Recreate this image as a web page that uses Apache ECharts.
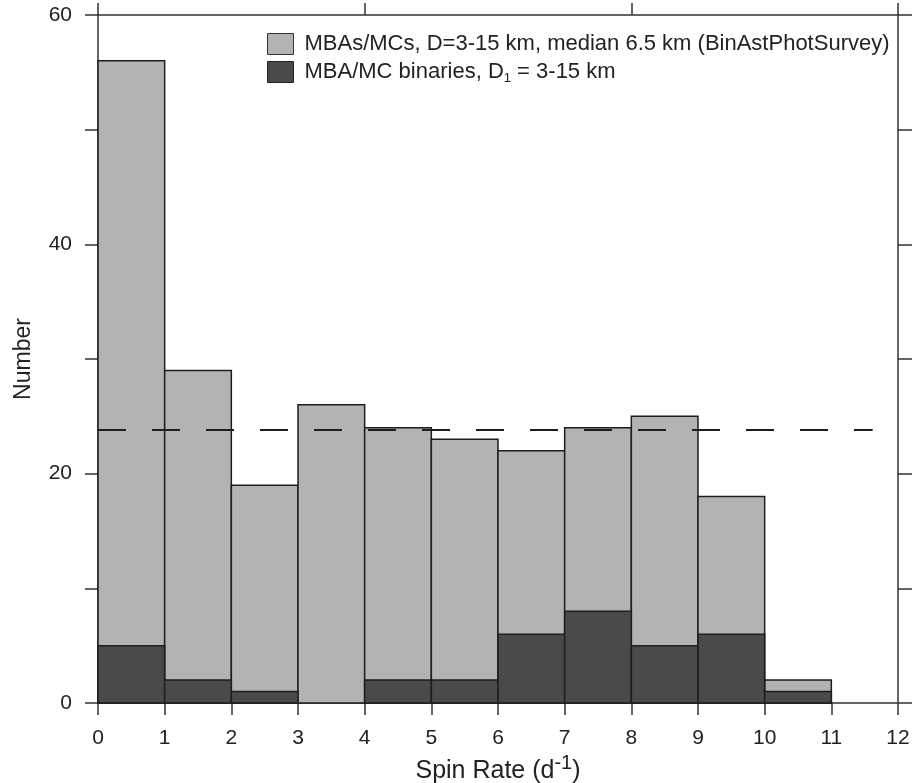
<!DOCTYPE html>
<html><head><meta charset="utf-8">
<script src="https://cdn.jsdelivr.net/npm/echarts@6/dist/echarts.min.js"></script>
<style>html,body{margin:0;padding:0;background:#fff}#c{width:916px;height:783px}</style>
</head><body><div id="c"></div>
<script>
var binStarts = [0,1,2,3,4,5,6,7,8,9,10];
var binEnds   = [1,2,3,4,5,6,7,8,9,10,11];
var allCounts = [56,29,19,26,24,23,22,24,25,18,2];
var binaryCounts = [5,2,1,0,2,2,6,8,5,6,1];
var meanX = [0, 11.62];
var meanY = [23.8, 23.8];
var seriesNames = ['MBAs/MCs, D=3-15 km, median 6.5 km (BinAstPhotSurvey)', 'MBA/MC binaries, D1 = 3-15 km'];

var FONT = '"Liberation Sans", Arial, Helvetica, sans-serif';
var INK = '#222';
function rows(vals){ return binStarts.map(function(s,i){ return [s, binEnds[i], vals[i]]; }); }
function makeRender(fill){
  return function(params, api){
    var v = api.value(2);
    if (!v) return null;
    var p0 = api.coord([api.value(0), 0]);
    var p1 = api.coord([api.value(1), v]);
    return {type:'rect', shape:{x:p0[0], y:p1[1], width:p1[0]-p0[0], height:p0[1]-p1[1]},
      style:{fill:fill, stroke:'#1e1e1e', lineWidth:1.5}};
  };
}
var LIGHT = '#b3b3b3', DARK = '#4a4a4a';
var chart = echarts.init(document.getElementById('c'), null, {renderer:'canvas'});
var axisLine = {show:true, onZero:false, lineStyle:{color:'#333', width:1.5}};
var tickStyle = {color:'#333', width:1.5};
chart.setOption({
  animation:false,
  textStyle:{fontFamily:FONT, color:INK},
  grid:{left:98, right:18, top:15, bottom:80, containLabel:false, outerBoundsMode:'none'},
  legend:{
    orient:'vertical', left:262, top:28, itemWidth:26, itemHeight:21, itemGap:6,
    icon:'rect',
    data:[
      {name:seriesNames[0], itemStyle:{color:LIGHT, borderColor:'#333', borderWidth:1}},
      {name:seriesNames[1], itemStyle:{color:DARK, borderColor:'#222', borderWidth:1}}
    ],
    formatter:function(n){ return n===seriesNames[1] ? 'MBA/MC binaries, D{sub|1} = 3-15 km' : n; },
    textStyle:{fontFamily:FONT, fontSize:22, lineHeight:22, color:INK, padding:[0,0,0,6],
      rich:{sub:{fontSize:13, fontFamily:FONT, color:INK, padding:[12,0,0,0]}}}
  },
  xAxis:[
    {type:'value', position:'bottom', min:0, max:12, interval:1,
      axisLine:axisLine, splitLine:{show:false},
      axisTick:{show:true, inside:false, length:12, lineStyle:tickStyle},
      axisLabel:{fontSize:21, color:INK, margin:25, fontFamily:FONT},
      name:'Spin Rate (d{sup|-1})', nameLocation:'middle', nameGap:49,
      nameTextStyle:{fontSize:25, color:INK, fontFamily:FONT,
        rich:{sup:{fontSize:20, color:INK, fontFamily:FONT, padding:[0,0,14,0]}}}},
    {type:'value', position:'top', min:0, max:12, interval:4,
      axisLine:axisLine, splitLine:{show:false},
      axisTick:{show:true, inside:false, length:12, lineStyle:tickStyle},
      axisLabel:{show:false}}
  ],
  yAxis:[
    {type:'value', position:'left', min:0, max:60, interval:10,
      axisLine:axisLine, splitLine:{show:false},
      axisTick:{show:true, inside:false, length:13, lineStyle:tickStyle},
      axisLabel:{fontSize:21, color:INK, margin:26, fontFamily:FONT,
        formatter:function(v){ return v%20===0 ? String(v) : ''; }},
      name:'Number', nameLocation:'middle', nameGap:63,
      nameTextStyle:{fontSize:23, color:INK, fontFamily:FONT}},
    {type:'value', position:'right', min:0, max:60, interval:10,
      axisLine:axisLine, splitLine:{show:false},
      axisTick:{show:true, inside:false, length:14, lineStyle:tickStyle},
      axisLabel:{show:false}}
  ],
  series:[
    {name:seriesNames[0], type:'custom', renderItem:makeRender(LIGHT), data:rows(allCounts),
      encode:{x:[0,1], y:2}, itemStyle:{color:LIGHT}, z:2},
    {name:seriesNames[1], type:'custom', renderItem:makeRender(DARK), data:rows(binaryCounts),
      encode:{x:[0,1], y:2}, itemStyle:{color:DARK}, z:3},
    {name:'mean', type:'line', data:meanX.map(function(x,i){return [x, meanY[i]];}),
      symbol:'none', z:5, silent:true,
      lineStyle:{color:'#1e1e1e', width:2, type:[28,26]}}
  ]
});
</script></body></html>
